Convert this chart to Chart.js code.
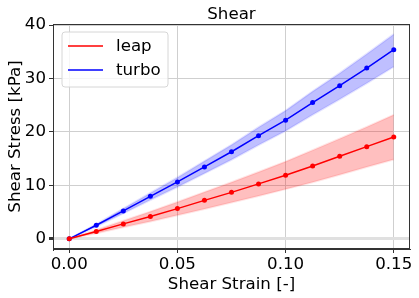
<!DOCTYPE html>
<html lang="en">
<head>
    <meta charset="UTF-8">
    <title>Shear</title>
    <script src="https://cdn.jsdelivr.net/npm/chart.js"></script>
    <style>
        body { margin: 0; background: #fff; }
    </style>
</head>
<body>
<canvas id="shearChart" width="419" height="298"></canvas>
<script>
    // values
    const strain = [0, 0.0125, 0.025, 0.0375, 0.05, 0.0625, 0.075, 0.0875, 0.1, 0.1125, 0.125, 0.1375, 0.15];
    const leapStress = [0, 1.36, 2.8, 4.17, 5.66, 7.2, 8.7, 10.28, 11.9, 13.64, 15.44, 17.25, 19.07];
    const leapUpper = [0, 1.65, 3.4, 5.1, 6.9, 8.75, 10.6, 12.5, 14.45, 16.6, 18.75, 20.95, 23.2];
    const leapLower = [0, 1.06, 2.18, 3.25, 4.4, 5.6, 6.8, 8.0, 9.3, 10.6, 12.0, 13.45, 14.85];
    const turboStress = [0, 2.54, 5.23, 7.96, 10.65, 13.46, 16.3, 19.3, 22.2, 25.5, 28.65, 31.96, 35.4];
    const turboUpper = [0, 2.75, 5.66, 8.6, 11.5, 14.55, 17.6, 20.9, 24.0, 27.6, 31.0, 34.6, 38.3];
    const turboLower = [0, 2.3, 4.75, 7.25, 9.7, 12.25, 14.8, 17.55, 20.2, 23.2, 26.1, 29.1, 32.2];
    const xTicks = [0, 0.05, 0.10, 0.15];
    const xTickLabels = ['0.00', '0.05', '0.10', '0.15'];
    const yTicks = [0, 10, 20, 30, 40];

    const FONT = "'DejaVu Sans', sans-serif";
    const SIZE = 16.67;
    const pts = arr => arr.map((v, i) => ({x: strain[i], y: v}));

    const band = (data, fillColor, edgeColor, fill) => ({
        data: pts(data),
        borderColor: edgeColor,
        borderWidth: 2,
        backgroundColor: fillColor,
        pointRadius: 0,
        fill: fill,
        order: 2
    });

    // title, axis labels, frame and legend, placed like the matplotlib original
    const decorations = {
        id: 'decorations',
        afterDraw(chart) {
            const c = chart.ctx;
            const a = chart.chartArea;
            c.save();
            c.strokeStyle = '#333';
            c.lineWidth = 1;
            c.strokeRect(a.left + 0.5, a.top + 0.5, a.right - a.left - 1, a.bottom - a.top - 1);

            c.fillStyle = '#000';
            c.font = SIZE + 'px ' + FONT;
            c.textAlign = 'center';
            c.textBaseline = 'alphabetic';
            const cx = (a.left + a.right) / 2;
            c.fillText('Shear', cx, 18.5);
            c.fillText('Shear Strain [-]', cx, 289);
            c.save();
            c.translate(20, (a.top + a.bottom) / 2);
            c.rotate(-Math.PI / 2);
            c.fillText('Shear Stress [kPa]', 0, 0);
            c.restore();

            // legend
            const lx = 62, ly = 32, lw = 106, lh = 55, r = 3;
            c.beginPath();
            c.moveTo(lx + r, ly);
            c.arcTo(lx + lw, ly, lx + lw, ly + lh, r);
            c.arcTo(lx + lw, ly + lh, lx, ly + lh, r);
            c.arcTo(lx, ly + lh, lx, ly, r);
            c.arcTo(lx, ly, lx + lw, ly, r);
            c.closePath();
            c.fillStyle = 'rgba(255,255,255,0.8)';
            c.fill();
            c.strokeStyle = '#d6d6d6';
            c.stroke();

            const entries = [['leap', '#ff0000', 46], ['turbo', '#0000ff', 70]];
            c.textAlign = 'left';
            c.textBaseline = 'middle';
            entries.forEach(([label, col, y]) => {
                c.beginPath();
                c.moveTo(68, y);
                c.lineTo(103, y);
                c.strokeStyle = col;
                c.lineWidth = 1.5;
                c.stroke();
                c.fillStyle = '#000';
                c.fillText(label, 116, y + 1);
            });
            c.restore();
        }
    };

    new Chart(document.getElementById('shearChart').getContext('2d'), {
        type: 'line',
        data: {
            datasets: [
                band(leapUpper, 'rgba(255,0,0,0.25)', 'rgba(255,0,0,0.1)', '+1'),
                band(leapLower, 'rgba(255,0,0,0.25)', 'rgba(255,0,0,0.1)', false),
                band(turboUpper, 'rgba(0,0,255,0.25)', 'rgba(0,0,255,0.1)', '+1'),
                band(turboLower, 'rgba(0,0,255,0.25)', 'rgba(0,0,255,0.1)', false),
                {
                    label: 'leap',
                    data: pts(leapStress),
                    borderColor: '#ff0000',
                    backgroundColor: '#ff0000',
                    borderWidth: 1.5,
                    pointRadius: 2.5,
                    pointBorderWidth: 0,
                    fill: false,
                    order: 1
                },
                {
                    label: 'turbo',
                    data: pts(turboStress),
                    borderColor: '#0000ff',
                    backgroundColor: '#0000ff',
                    borderWidth: 1.5,
                    pointRadius: 2.5,
                    pointBorderWidth: 0,
                    fill: false,
                    order: 1
                }
            ]
        },
        options: {
            responsive: false,
            animation: false,
            layout: { padding: { top: 24, right: 9, left: 0, bottom: 0 } },
            elements: { line: { tension: 0 } },
            plugins: {
                legend: { display: false },
                title: { display: false },
                tooltip: { enabled: false }
            },
            scales: {
                x: {
                    type: 'linear',
                    min: -0.0075,
                    max: 0.1575,
                    afterBuildTicks: s => { s.ticks = xTicks.map(v => ({value: v})); },
                    afterFit: s => { s.height = 49; },
                    ticks: {
                        callback: (v, i) => xTickLabels[i],
                        font: { family: FONT, size: SIZE },
                        color: '#000',
                        padding: 2,
                        maxRotation: 0
                    },
                    grid: { color: '#cfcfcf', lineWidth: 1, tickLength: 4, tickColor: '#333' },
                    border: { color: '#333', width: 1 }
                },
                y: {
                    type: 'linear',
                    min: -1.9,
                    max: 40.2,
                    afterBuildTicks: s => { s.ticks = yTicks.map(v => ({value: v})); },
                    afterFit: s => { s.width = 53; },
                    ticks: {
                        font: { family: FONT, size: SIZE },
                        color: '#000',
                        padding: 3
                    },
                    grid: {
                        color: c => c.tick && c.tick.value === 0 ? '#e0e0e0' : '#cfcfcf',
                        lineWidth: c => c.tick && c.tick.value === 0 ? 3 : 1,
                        tickLength: 4,
                        tickColor: '#333'
                    },
                    border: { color: '#333', width: 1 }
                }
            }
        },
        plugins: [decorations]
    });
</script>
</body>
</html>
